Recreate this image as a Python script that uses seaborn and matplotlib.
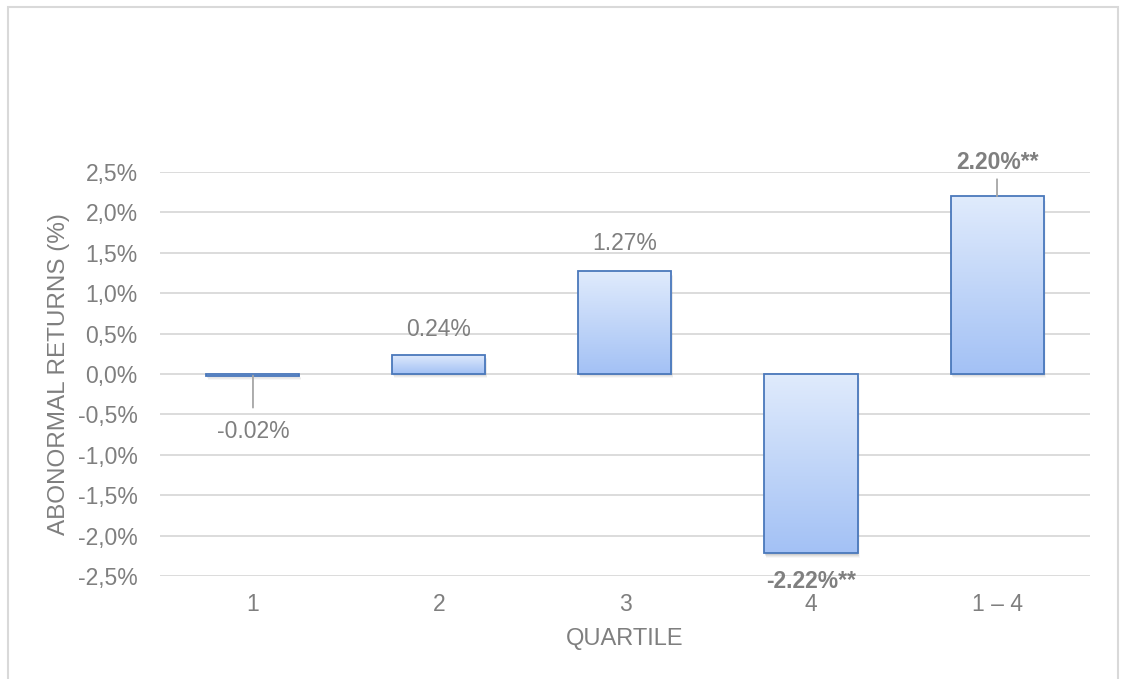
import numpy as np
import pandas as pd
import matplotlib
matplotlib.use("Agg")
import matplotlib.pyplot as plt
from matplotlib.patches import Rectangle
from matplotlib.transforms import ScaledTranslation
from matplotlib.colors import LinearSegmentedColormap
from matplotlib.ticker import FuncFormatter, MultipleLocator
import seaborn as sns

# Abnormal returns by quartile
quartiles = ["1", "2", "3", "4", "1 \u2013 4"]
returns = [-0.02, 0.24, 1.27, -2.22, 2.20]
significance = ["", "", "", "**", "**"]

TEXT = "#7f7f7f"
GRID = "#d9d9d9"
EDGE = "#4a78bb"
TOP_COLOR = "#e0ebfc"
BOTTOM_COLOR = "#a3c1f5"
FS = 16.5

sns.set_theme(style="white")
plt.rcParams["font.family"] = ["Liberation Sans", "DejaVu Sans"]

fig = plt.figure(figsize=(11.25, 6.79), dpi=100)
ax = fig.add_axes([0.1422, 0.1517, 0.8267, 0.595])

df = pd.DataFrame({"quartile": quartiles, "ret": returns})
sns.barplot(data=df, x="quartile", y="ret", width=0.5, ax=ax,
            facecolor="none", edgecolor=EDGE, linewidth=1.3, zorder=3)

ax.set_xlim(-0.5, len(quartiles) - 0.5)
ax.set_ylim(-2.5, 2.5)
ax.yaxis.set_major_locator(MultipleLocator(0.5))
ax.yaxis.set_major_formatter(
    FuncFormatter(lambda v, _: f"{v:.1f}%".replace(".", ",").replace("\u2212", "-")))
ax.grid(axis="y", color=GRID, linewidth=1.3, zorder=0)
ax.set_axisbelow(True)
for s in ax.spines.values():
    s.set_visible(False)
ax.tick_params(axis="both", length=0, labelsize=FS, colors=TEXT)
ax.tick_params(axis="y", pad=16)
ax.tick_params(axis="x", pad=12)

ax.set_xlabel("QUARTILE", fontsize=17, color=TEXT, labelpad=9)
ax.set_ylabel("ABONORMAL RETURNS (%)", fontsize=17.5, color=TEXT, labelpad=6)

# Gradient fill with a soft drop shadow for each bar
cmap = LinearSegmentedColormap.from_list("bar", [TOP_COLOR, BOTTOM_COLOR])
grad = np.linspace(0, 1, 256).reshape(-1, 1)
for patch in ax.patches:
    x0, y0 = patch.get_x(), patch.get_y()
    w, h = patch.get_width(), patch.get_height()
    ylo, yhi = min(y0, y0 + h), max(y0, y0 + h)
    for k, a in enumerate([0.10, 0.08, 0.06, 0.04]):
        off = ScaledTranslation((0.5 + 0.5 * k) / 100, -(1.5 + k) / 100, fig.dpi_scale_trans)
        sh = Rectangle((x0, ylo), w, yhi - ylo, facecolor="#404040", alpha=a,
                       edgecolor="none", transform=ax.transData + off, zorder=1)
        ax.add_patch(sh)
    bg = Rectangle((x0, ylo), w, yhi - ylo, facecolor="white", edgecolor="none", zorder=1.5)
    ax.add_patch(bg)
    im = ax.imshow(grad, cmap=cmap, aspect="auto", extent=(x0, x0 + w, ylo, yhi),
                   origin="upper", zorder=2)
    im.set_clip_path(patch)
    patch.set_facecolor("none")
ax.set_xlim(-0.5, len(quartiles) - 0.5)
ax.set_ylim(-2.5, 2.5)

# Value labels
label_offsets = [-56, 25, 28, -28, 34]
leader_lengths = [32, 0, 0, 0, 17]
for i, (v, sig, off, lead) in enumerate(zip(returns, significance, label_offsets, leader_lengths)):
    txt = f"{v:.2f}%{sig}"
    ax.annotate(txt, xy=(i, v), xytext=(0, off), textcoords="offset pixels",
                ha="center", va="center", fontsize=FS, color=TEXT,
                fontweight="bold" if sig else "normal", annotation_clip=False, zorder=5)
    if lead:
        direction = 1 if off > 0 else -1
        ax.annotate("", xy=(i, v), xytext=(0, direction * lead), textcoords="offset pixels",
                    arrowprops=dict(arrowstyle="-", color="#a6a6a6", lw=1.3,
                                    shrinkA=0, shrinkB=0),
                    annotation_clip=False, zorder=4)

# Chart frame
fig.add_artist(Rectangle((8 / 1125, -0.02), 1110 / 1125, 0.02 + 672 / 679,
                         transform=fig.transFigure, fill=False,
                         edgecolor="#d9d9d9", linewidth=1.5))

fig.savefig("out.png", dpi=100)
